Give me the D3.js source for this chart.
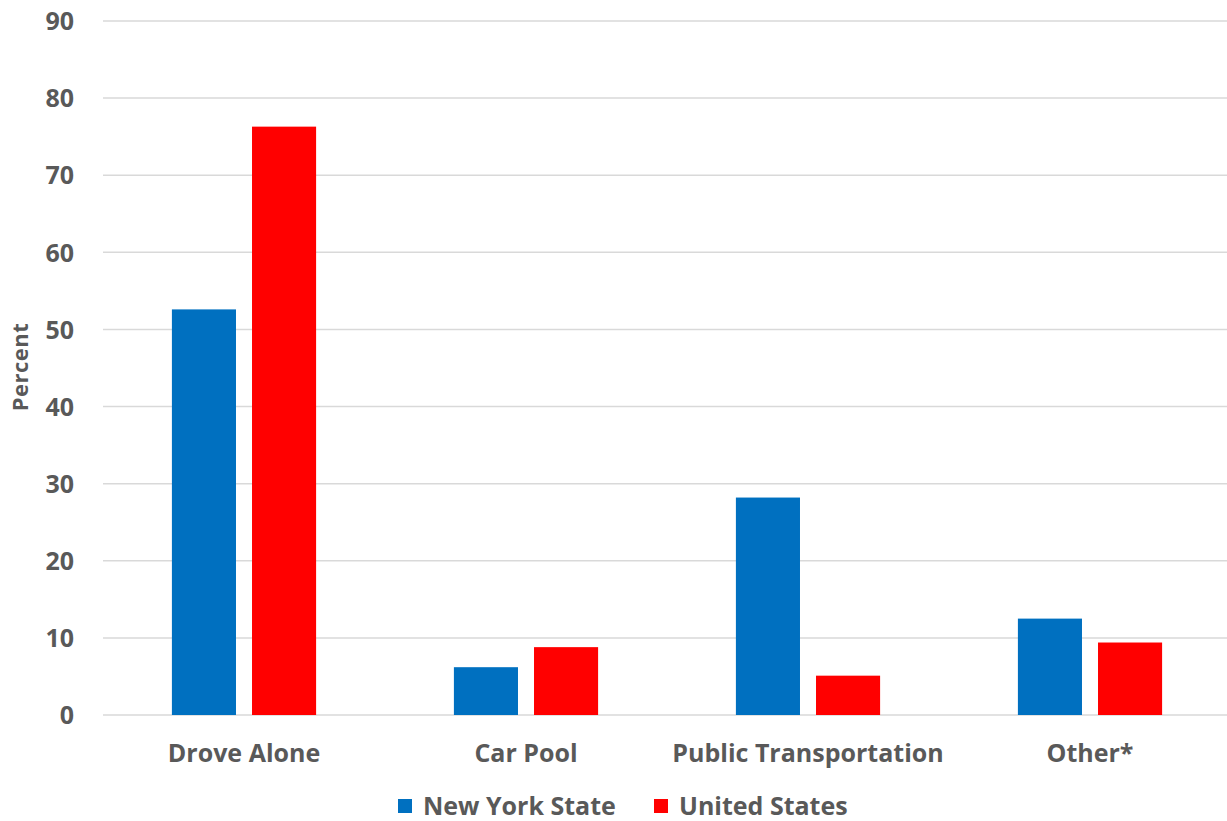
<!DOCTYPE html>
<html>
<head>
<meta charset="utf-8">
<script src="https://cdn.jsdelivr.net/npm/d3@7"></script>
<style>
  html, body { margin: 0; padding: 0; background: #fff; }
  svg { display: block; }
  text { font-family: "Open Sans", "Noto Sans", sans-serif; font-weight: 700; fill: #595959; }
</style>
</head>
<body>
<svg id="chart" width="1227" height="821"></svg>
<script>
const categories = ["Drove Alone", "Car Pool", "Public Transportation", "Other*"];
const seriesNames = ["New York State", "United States"];
const nyValues = [52.6, 6.2, 28.2, 12.5];
const usValues = [76.3, 8.8, 5.1, 9.4];
const seriesColors = ["#0070C0", "#FF0000"];
const yTicks = [0, 10, 20, 30, 40, 50, 60, 70, 80, 90];

const svg = d3.select("#chart");
const mLeft = 103, mRight = 1231, mTop = 21, mBottom = 715;

const x = d3.scaleBand().domain(categories).range([mLeft, mRight]).paddingInner(0).paddingOuter(0);
const xInner = d3.scaleBand().domain(seriesNames).range([0, x.bandwidth()]).paddingInner(0.2).paddingOuter(0.86);
const y = d3.scaleLinear().domain([0, 90]).range([mBottom, mTop]);

// gridlines
svg.append("g").selectAll("line").data(yTicks).join("line")
  .attr("x1", mLeft).attr("x2", mRight)
  .attr("y1", d => y(d)).attr("y2", d => y(d))
  .attr("stroke", "#d9d9d9").attr("stroke-width", 1.5);

// y axis labels
const yAxis = d3.axisLeft(y).tickValues(yTicks).tickSize(0).tickPadding(0);
const gy = svg.append("g").attr("transform", `translate(74,0)`).call(yAxis);
gy.select(".domain").remove();
gy.selectAll("text").style("font-size", "25px").attr("dy", "0.35em")
  .style("font-family", "'Open Sans', sans-serif").style("font-weight", 700).attr("fill", "#595959");

// bars
const data = categories.map((c, i) => ({ cat: c, vals: [nyValues[i], usValues[i]] }));
const groups = svg.append("g").selectAll("g").data(data).join("g")
  .attr("transform", d => `translate(${x(d.cat)},0)`);
groups.selectAll("rect").data(d => d.vals.map((v, j) => ({ s: seriesNames[j], v, j })))
  .join("rect")
  .attr("x", d => xInner(d.s))
  .attr("width", xInner.bandwidth())
  .attr("y", d => y(d.v))
  .attr("height", d => y(0) - y(d.v))
  .attr("fill", d => seriesColors[d.j]);

// x axis labels
const xAxis = d3.axisBottom(x).tickSize(0).tickPadding(0);
const gx = svg.append("g").attr("transform", `translate(0,753)`).call(xAxis);
gx.select(".domain").remove();
gx.selectAll("text").attr("dy", "0.35em").style("font-size", "25px")
  .style("font-family", "'Open Sans', sans-serif").style("font-weight", 700).attr("fill", "#595959");

// y axis title
svg.append("text").attr("transform", "translate(20,367) rotate(-90)")
  .attr("text-anchor", "middle").attr("dy", "0.35em")
  .style("font-size", "22px").attr("letter-spacing", "0.5px").text("Percent");

// legend
const legendX = [398, 654];
const lg = svg.append("g").selectAll("g").data(seriesNames).join("g")
  .attr("transform", (d, i) => `translate(${legendX[i]},806)`);
lg.append("rect").attr("x", 0).attr("y", -7).attr("width", 14).attr("height", 14)
  .attr("fill", (d, i) => seriesColors[i]);
lg.append("text").attr("x", 25).attr("dy", "0.35em").style("font-size", "25px").text(d => d);
</script>
</body>
</html>
